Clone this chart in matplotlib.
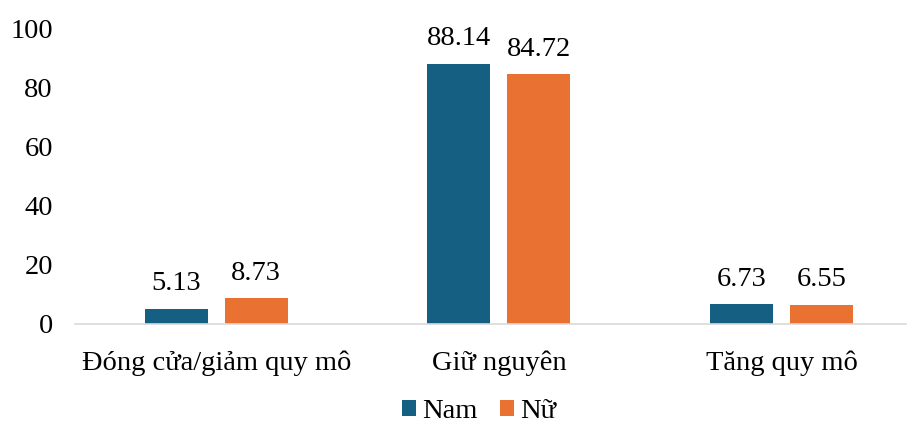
import matplotlib
matplotlib.use('Agg')
import matplotlib.pyplot as plt
import numpy as np

categories = ['Đóng cửa/giảm quy mô', 'Giữ nguyên', 'Tăng quy mô']
nam = [5.13, 88.14, 6.73]
nu = [8.73, 84.72, 6.55]
series_names = ['Nam', 'Nữ']

plt.rcParams['font.family'] = ['Liberation Serif', 'DejaVu Serif']

fig = plt.figure(figsize=(9.09, 4.24), dpi=100)
ax = fig.add_axes([0.0825, 0.236, 0.914, 0.696])

x = np.arange(len(categories))
w = 0.223
off = 0.1415
b1 = ax.bar(x - off, nam, w, color='#156082', label=series_names[0])
b2 = ax.bar(x + off, nu, w, color='#E97132', label=series_names[1])

for bars, vals in [(b1, nam), (b2, nu)]:
    for rect, v in zip(bars, vals):
        ax.text(rect.get_x() + rect.get_width() / 2, v + 4.2, '%.2f' % v,
                ha='center', va='bottom', fontsize=20.5)

ax.set_ylim(0, 100)
ax.set_yticks(range(0, 101, 20))
ax.set_xlim(-0.5, 2.44)
ax.set_xticks(x)
ax.set_xticklabels(categories)
for s in ['top', 'right', 'left']:
    ax.spines[s].set_visible(False)
ax.spines['bottom'].set_color('#d9d9d9')
ax.spines['bottom'].set_linewidth(1.2)
ax.tick_params(axis='both', length=0, labelsize=20.5)
ax.tick_params(axis='x', pad=19)
ax.tick_params(axis='y', pad=16)

fig.legend(loc='lower center', bbox_to_anchor=(0.527, -0.06), ncol=2, frameon=False,
           fontsize=20.5, handlelength=0.5, handleheight=0.5, handletextpad=0.2,
           columnspacing=0.8)

fig.savefig('out.png', dpi=100)
